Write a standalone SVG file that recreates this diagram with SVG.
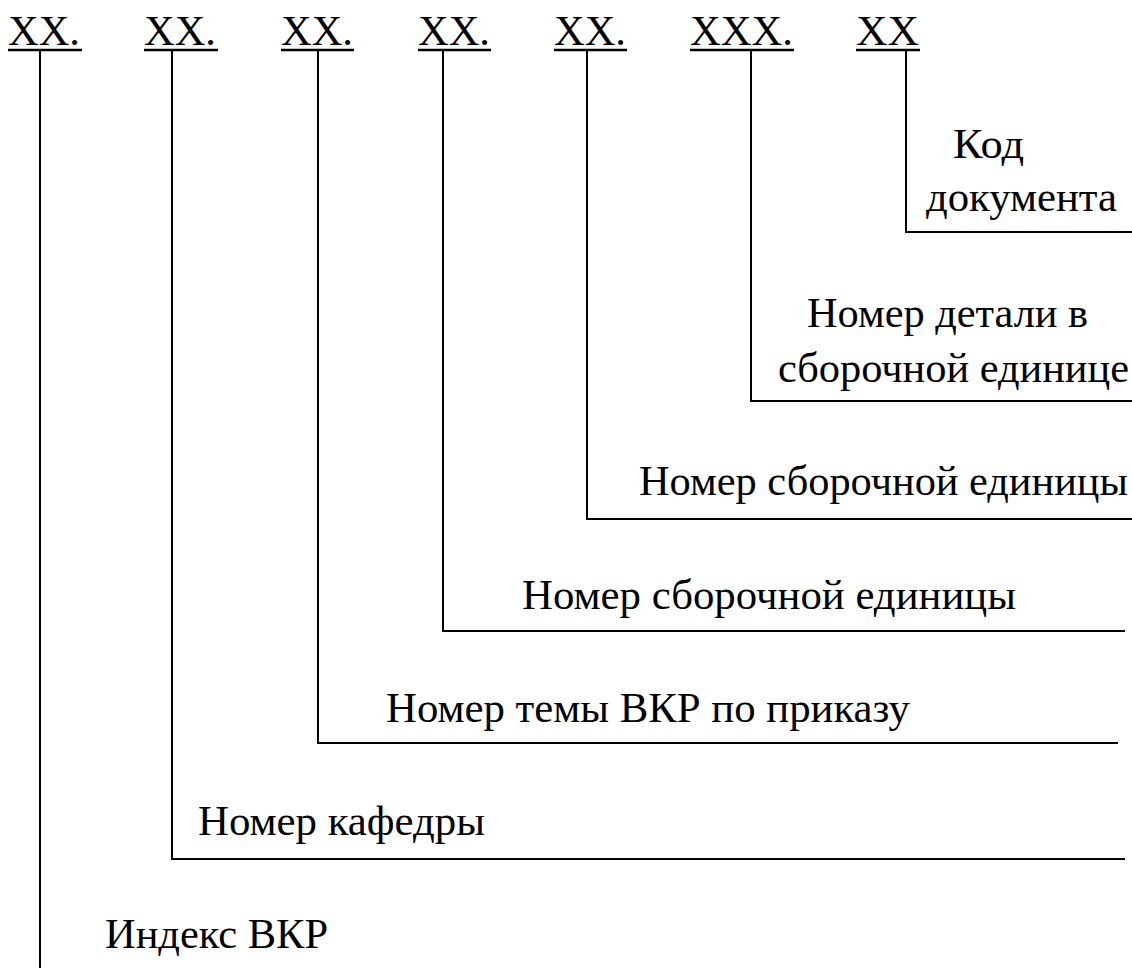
<svg xmlns="http://www.w3.org/2000/svg" width="1132" height="968" viewBox="0 0 1132 968">
<style>
text{font-family:'Liberation Serif','DejaVu Serif',serif;font-size:43px;fill:#000}
.ln{stroke:#000;stroke-width:2;fill:none}
.ul{stroke:#000;stroke-width:2.5;fill:none}
</style>
<rect width="1132" height="968" fill="#fff"/>
<g id="codes">
<g id="c1"><text x="8" y="45" textLength="72" lengthAdjust="spacingAndGlyphs">XX.</text><line class="ul" x1="8" y1="50" x2="82" y2="50"/></g>
<g id="c2"><text x="144" y="45" textLength="72" lengthAdjust="spacingAndGlyphs">XX.</text><line class="ul" x1="144" y1="50" x2="218" y2="50"/></g>
<g id="c3"><text x="281" y="45" textLength="72" lengthAdjust="spacingAndGlyphs">XX.</text><line class="ul" x1="281" y1="50" x2="354" y2="50"/></g>
<g id="c4"><text x="418" y="45" textLength="72" lengthAdjust="spacingAndGlyphs">XX.</text><line class="ul" x1="418" y1="50" x2="491" y2="50"/></g>
<g id="c5"><text x="554" y="45" textLength="72" lengthAdjust="spacingAndGlyphs">XX.</text><line class="ul" x1="554" y1="50" x2="627" y2="50"/></g>
<g id="c6"><text x="690" y="45" textLength="103" lengthAdjust="spacingAndGlyphs">XXX.</text><line class="ul" x1="690" y1="50" x2="794" y2="50"/></g>
<g id="c7"><text x="856" y="45" textLength="63" lengthAdjust="spacingAndGlyphs">XX</text><line class="ul" x1="856" y1="50" x2="920" y2="50"/></g>
</g>
<g id="labels">
<g id="l7"><text x="953" y="158" textLength="71" lengthAdjust="spacingAndGlyphs">Код</text><text x="926" y="211" textLength="191" lengthAdjust="spacingAndGlyphs">документа</text></g>
<g id="l6"><text x="807" y="327" textLength="281" lengthAdjust="spacingAndGlyphs">Номер детали в</text><text x="778" y="382" textLength="351" lengthAdjust="spacingAndGlyphs">сборочной единице</text></g>
<g id="l5"><text x="639" y="495" textLength="489" lengthAdjust="spacingAndGlyphs">Номер сборочной единицы</text></g>
<g id="l4"><text x="522" y="609" textLength="494" lengthAdjust="spacingAndGlyphs">Номер сборочной единицы</text></g>
<g id="l3"><text x="386" y="722" textLength="524" lengthAdjust="spacingAndGlyphs">Номер темы ВКР по приказу</text></g>
<g id="l2"><text x="198" y="835" textLength="287" lengthAdjust="spacingAndGlyphs">Номер кафедры</text></g>
<g id="l1"><text x="105" y="948" textLength="223" lengthAdjust="spacingAndGlyphs">Индекс ВКР</text></g>
</g>
<g id="connectors">
<polyline class="ln" points="906,51 906,232 1132,232"/>
<polyline class="ln" points="751,51 751,401 1132,401"/>
<polyline class="ln" points="587,51 587,519 1132,519"/>
<polyline class="ln" points="443,51 443,631 1125,631"/>
<polyline class="ln" points="318,51 318,743 1118,743"/>
<polyline class="ln" points="172,51 172,859 1125,859"/>
<line class="ln" x1="40" y1="51" x2="40" y2="968"/>
</g>
</svg>
